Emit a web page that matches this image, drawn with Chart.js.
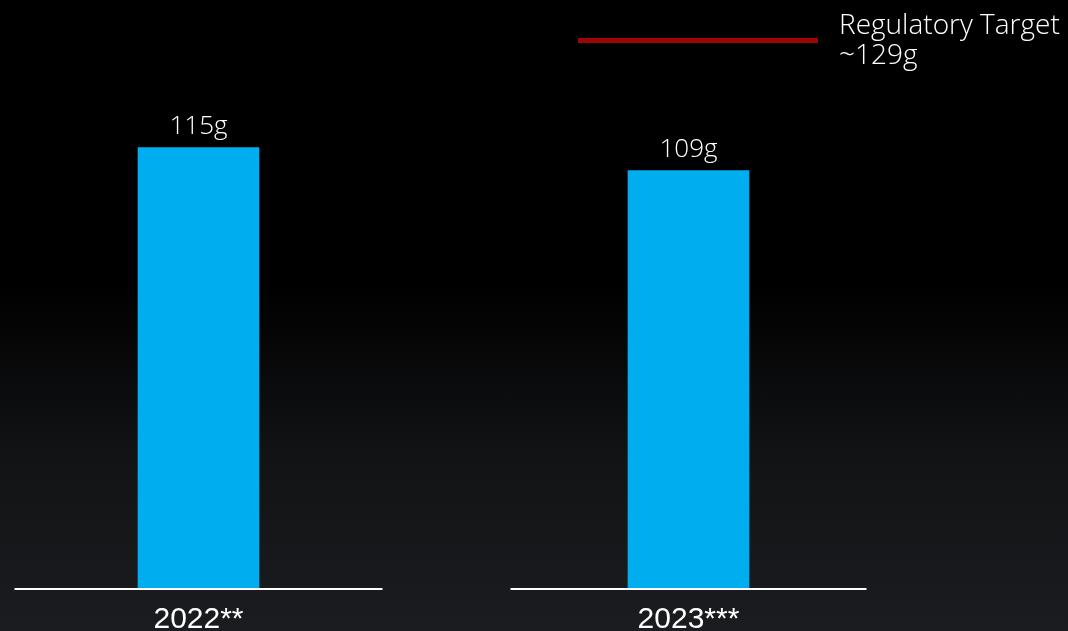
<!DOCTYPE html>
<html lang="en">
<head>
  <meta charset="UTF-8">
  <title>Emissions vs Regulatory Target</title>
  <script src="https://cdn.jsdelivr.net/npm/chart.js"></script>
  <style>
    html, body { margin: 0; padding: 0; }
    body {
      width: 1068px; height: 631px; overflow: hidden;
      background: linear-gradient(180deg, #000 0%, #000 45%, #121315 72%, #1b1c1f 100%);
    }
    #wrap { position: relative; width: 1068px; height: 631px; }
  </style>
</head>
<body>
  <div id="wrap"><canvas id="chart"></canvas></div>

  <script>
    const categories = ['2022**', '2023***'];
    const values = [115, 109];
    const unit = 'g';
    const targetValue = 129;
    const targetLabel = 'Regulatory Target';

    const BAR_COLOR = '#00aeef';
    const TARGET_COLOR = '#a00404';
    const AXIS_HALF = [184, 178];

    // value labels above each bar
    const valueLabels = {
      id: 'valueLabels',
      afterDatasetsDraw(chart) {
        const ctx = chart.ctx;
        const meta = chart.getDatasetMeta(0);
        ctx.save();
        ctx.fillStyle = '#ffffff';
        ctx.font = '300 26px "Open Sans", sans-serif';
        ctx.textAlign = 'center';
        ctx.textBaseline = 'alphabetic';
        meta.data.forEach((bar, i) => {
          ctx.fillText(values[i] + unit, bar.x, bar.y - 13);
        });
        ctx.restore();
      }
    };

    // white baseline segment under each category
    const axisSegments = {
      id: 'axisSegments',
      afterDatasetsDraw(chart) {
        const ctx = chart.ctx;
        const xs = chart.scales.x, ys = chart.scales.y;
        const y0 = ys.getPixelForValue(0) + 1;
        ctx.save();
        ctx.strokeStyle = '#ffffff';
        ctx.lineWidth = 2;
        categories.forEach((c, i) => {
          const cx = xs.getPixelForValue(i);
          ctx.beginPath();
          ctx.moveTo(cx - AXIS_HALF[i], y0);
          ctx.lineTo(cx + AXIS_HALF[i], y0);
          ctx.stroke();
        });
        ctx.restore();
      }
    };

    // target key, top right
    const targetKey = {
      id: 'targetKey',
      afterDraw(chart) {
        const ctx = chart.ctx;
        ctx.save();
        ctx.fillStyle = TARGET_COLOR;
        ctx.fillRect(578, 38, 240, 5);
        ctx.fillStyle = '#ffffff';
        ctx.font = '300 28px "Open Sans", sans-serif';
        ctx.textAlign = 'left';
        ctx.textBaseline = 'alphabetic';
        ctx.fillText(targetLabel, 839, 34);
        ctx.fillText('~' + targetValue + unit, 839, 64);
        ctx.restore();
      }
    };

    new Chart(document.getElementById('chart'), {
      type: 'bar',
      data: {
        datasets: [{
          data: values.map((v, i) => ({ x: i, y: v })),
          backgroundColor: BAR_COLOR,
          barThickness: 121,
          borderWidth: 0
        }]
      },
      options: {
        responsive: true,
        maintainAspectRatio: false,
        animation: false,
        layout: { padding: 0 },
        plugins: {
          legend: { display: false },
          tooltip: { enabled: false }
        },
        scales: {
          x: {
            type: 'linear',
            offset: false,
            min: -0.4051,
            max: 1.7745,
            grid: { display: false, drawTicks: false, offset: false },
            border: { display: false },
            afterBuildTicks: s => { s.ticks = categories.map((c, i) => ({ value: i })); },
            afterFit: s => { s.height = 43; },
            ticks: {
              color: '#ffffff',
              padding: 14,
              autoSkip: false,
              maxRotation: 0,
              font: { family: '"Liberation Sans", Arial, sans-serif', size: 30 },
              callback: v => categories[v]
            }
          },
          y: {
            display: false,
            min: 0,
            max: 153.5
          }
        }
      },
      plugins: [valueLabels, axisSegments, targetKey]
    });
  </script>
</body>
</html>
